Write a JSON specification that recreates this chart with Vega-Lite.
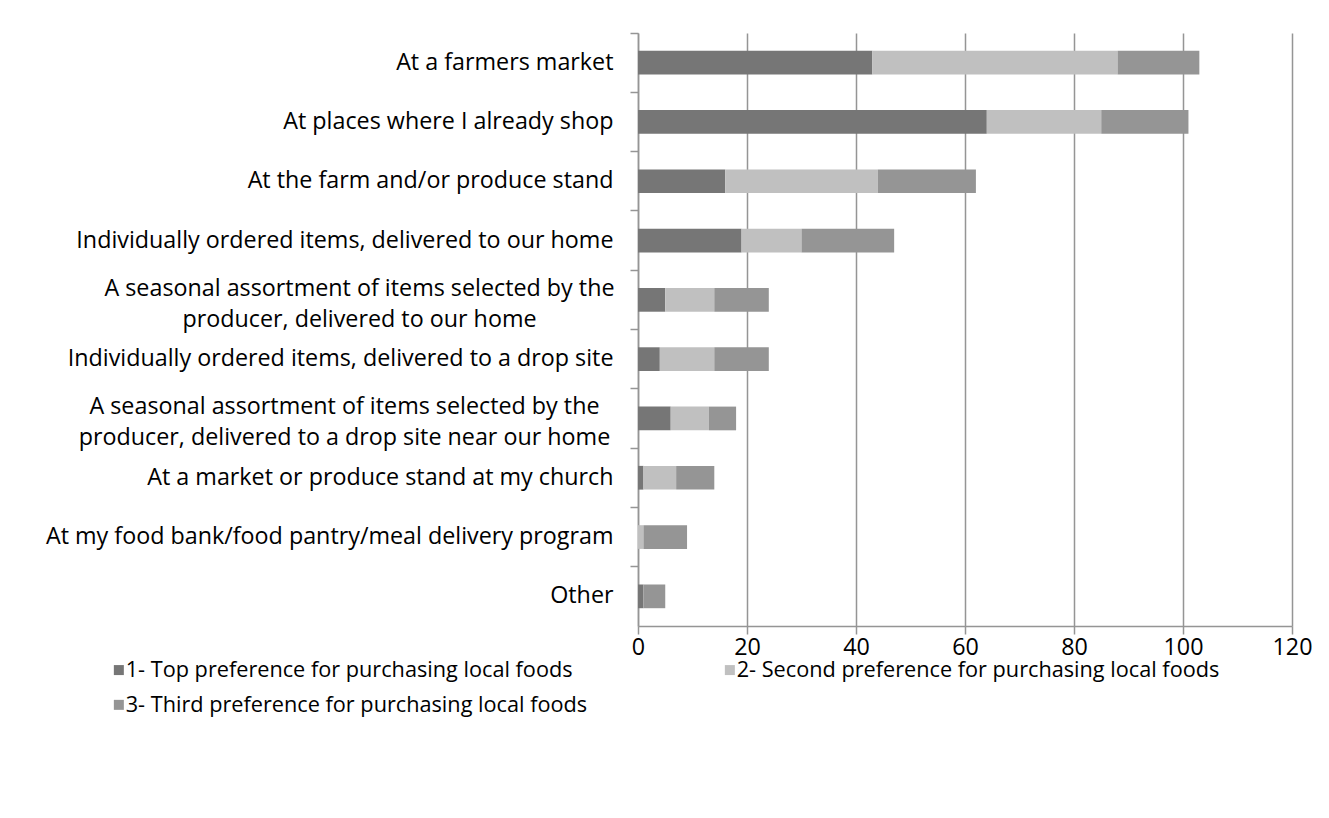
{
  "$schema": "https://vega.github.io/schema/vega-lite/v6.json",
  "width": 654,
  "height": 593,
  "autosize": "none",
  "padding": {"left": 638, "top": 33, "right": 37, "bottom": 192},
  "background": "white",
  "config": {"view": {"stroke": null}, "font": "Open Sans"},
  "data": {"values": [
    {"category": "At a farmers market", "preference": "1- Top preference for purchasing local foods", "rank": 1, "count": 43},
    {"category": "At a farmers market", "preference": "2- Second preference for purchasing local foods", "rank": 2, "count": 45},
    {"category": "At a farmers market", "preference": "3- Third preference for purchasing local foods", "rank": 3, "count": 15},
    {"category": "At places where I already shop", "preference": "1- Top preference for purchasing local foods", "rank": 1, "count": 64},
    {"category": "At places where I already shop", "preference": "2- Second preference for purchasing local foods", "rank": 2, "count": 21},
    {"category": "At places where I already shop", "preference": "3- Third preference for purchasing local foods", "rank": 3, "count": 16},
    {"category": "At the farm and/or produce stand", "preference": "1- Top preference for purchasing local foods", "rank": 1, "count": 16},
    {"category": "At the farm and/or produce stand", "preference": "2- Second preference for purchasing local foods", "rank": 2, "count": 28},
    {"category": "At the farm and/or produce stand", "preference": "3- Third preference for purchasing local foods", "rank": 3, "count": 18},
    {"category": "Individually ordered items, delivered to our home", "preference": "1- Top preference for purchasing local foods", "rank": 1, "count": 19},
    {"category": "Individually ordered items, delivered to our home", "preference": "2- Second preference for purchasing local foods", "rank": 2, "count": 11},
    {"category": "Individually ordered items, delivered to our home", "preference": "3- Third preference for purchasing local foods", "rank": 3, "count": 17},
    {"category": "A seasonal assortment of items selected by the producer, delivered to our home", "preference": "1- Top preference for purchasing local foods", "rank": 1, "count": 5},
    {"category": "A seasonal assortment of items selected by the producer, delivered to our home", "preference": "2- Second preference for purchasing local foods", "rank": 2, "count": 9},
    {"category": "A seasonal assortment of items selected by the producer, delivered to our home", "preference": "3- Third preference for purchasing local foods", "rank": 3, "count": 10},
    {"category": "Individually ordered items, delivered to a drop site", "preference": "1- Top preference for purchasing local foods", "rank": 1, "count": 4},
    {"category": "Individually ordered items, delivered to a drop site", "preference": "2- Second preference for purchasing local foods", "rank": 2, "count": 10},
    {"category": "Individually ordered items, delivered to a drop site", "preference": "3- Third preference for purchasing local foods", "rank": 3, "count": 10},
    {"category": "A seasonal assortment of items selected by the producer, delivered to a drop site near our home", "preference": "1- Top preference for purchasing local foods", "rank": 1, "count": 6},
    {"category": "A seasonal assortment of items selected by the producer, delivered to a drop site near our home", "preference": "2- Second preference for purchasing local foods", "rank": 2, "count": 7},
    {"category": "A seasonal assortment of items selected by the producer, delivered to a drop site near our home", "preference": "3- Third preference for purchasing local foods", "rank": 3, "count": 5},
    {"category": "At a market or produce stand at my church", "preference": "1- Top preference for purchasing local foods", "rank": 1, "count": 1},
    {"category": "At a market or produce stand at my church", "preference": "2- Second preference for purchasing local foods", "rank": 2, "count": 6},
    {"category": "At a market or produce stand at my church", "preference": "3- Third preference for purchasing local foods", "rank": 3, "count": 7},
    {"category": "At my food bank/food pantry/meal delivery program", "preference": "1- Top preference for purchasing local foods", "rank": 1, "count": 0},
    {"category": "At my food bank/food pantry/meal delivery program", "preference": "2- Second preference for purchasing local foods", "rank": 2, "count": 1},
    {"category": "At my food bank/food pantry/meal delivery program", "preference": "3- Third preference for purchasing local foods", "rank": 3, "count": 8},
    {"category": "Other", "preference": "1- Top preference for purchasing local foods", "rank": 1, "count": 1},
    {"category": "Other", "preference": "2- Second preference for purchasing local foods", "rank": 2, "count": 0},
    {"category": "Other", "preference": "3- Third preference for purchasing local foods", "rank": 3, "count": 4}
  ]},
  "mark": {"type": "bar", "height": {"band": 0.4}},
  "encoding": {
    "y": {
      "field": "category",
      "type": "nominal",
      "sort": [
        "At a farmers market",
        "At places where I already shop",
        "At the farm and/or produce stand",
        "Individually ordered items, delivered to our home",
        "A seasonal assortment of items selected by the producer, delivered to our home",
        "Individually ordered items, delivered to a drop site",
        "A seasonal assortment of items selected by the producer, delivered to a drop site near our home",
        "At a market or produce stand at my church",
        "At my food bank/food pantry/meal delivery program",
        "Other"
      ],
      "scale": {"paddingInner": 0, "paddingOuter": 0},
      "axis": {
        "title": null,
        "bandPosition": 0,
        "tickSize": 8,
        "tickColor": "#959595",
        "tickWidth": 1.5,
        "domainColor": "#959595",
        "domainWidth": 1.5,
        "labelFontSize": 23.3,
        "labelColor": "#000000",
        "labelLimit": 700,
        "labelLineHeight": 31,
        "labelExpr": "datum.value == 'A seasonal assortment of items selected by the producer, delivered to our home' ? ['A seasonal assortment of items selected by the', 'producer, delivered to our home'] : datum.value == 'A seasonal assortment of items selected by the producer, delivered to a drop site near our home' ? ['A seasonal assortment of items selected by the', 'producer, delivered to a drop site near our home'] : datum.value",
        "labelAlign": {"condition": {"test": "indexof(datum.value, 'A seasonal') === 0", "value": "center"}, "value": "right"},
        "labelOffset": {"condition": {"test": "indexof(datum.value, 'A seasonal') === 0", "value": -11}, "value": 0},
        "labelPadding": {"condition": [
          {"test": "datum.value == 'A seasonal assortment of items selected by the producer, delivered to our home'", "value": 271},
          {"test": "datum.value == 'A seasonal assortment of items selected by the producer, delivered to a drop site near our home'", "value": 286}
        ], "value": 17}
      }
    },
    "x": {
      "field": "count",
      "type": "quantitative",
      "stack": "zero",
      "scale": {"domain": [0, 120]},
      "axis": {
        "title": null,
        "values": [0, 20, 40, 60, 80, 100, 120],
        "grid": true,
        "gridColor": "#959595",
        "gridWidth": 1.5,
        "tickSize": 8,
        "tickColor": "#959595",
        "tickWidth": 1.5,
        "domainColor": "#959595",
        "domainWidth": 1.5,
        "labelFontSize": 23.3,
        "labelColor": "#000000",
        "labelPadding": 2,
        "labelFlush": false
      }
    },
    "color": {
      "field": "preference",
      "type": "nominal",
      "scale": {
        "domain": [
          "1- Top preference for purchasing local foods",
          "2- Second preference for purchasing local foods",
          "3- Third preference for purchasing local foods"
        ],
        "range": ["#767676", "#c0c0c0", "#959595"]
      },
      "legend": {
        "title": null,
        "orient": "none",
        "legendX": -530,
        "legendY": 626,
        "direction": "horizontal",
        "columns": 2,
        "symbolType": "square",
        "symbolSize": 100,
        "symbolStrokeWidth": 0,
        "labelFontSize": 21.7,
        "labelColor": "#000000",
        "labelOffset": -4,
        "labelLimit": 700,
        "columnPadding": 131,
        "rowPadding": 12
      }
    },
    "order": {"field": "rank", "type": "quantitative"}
  }
}
